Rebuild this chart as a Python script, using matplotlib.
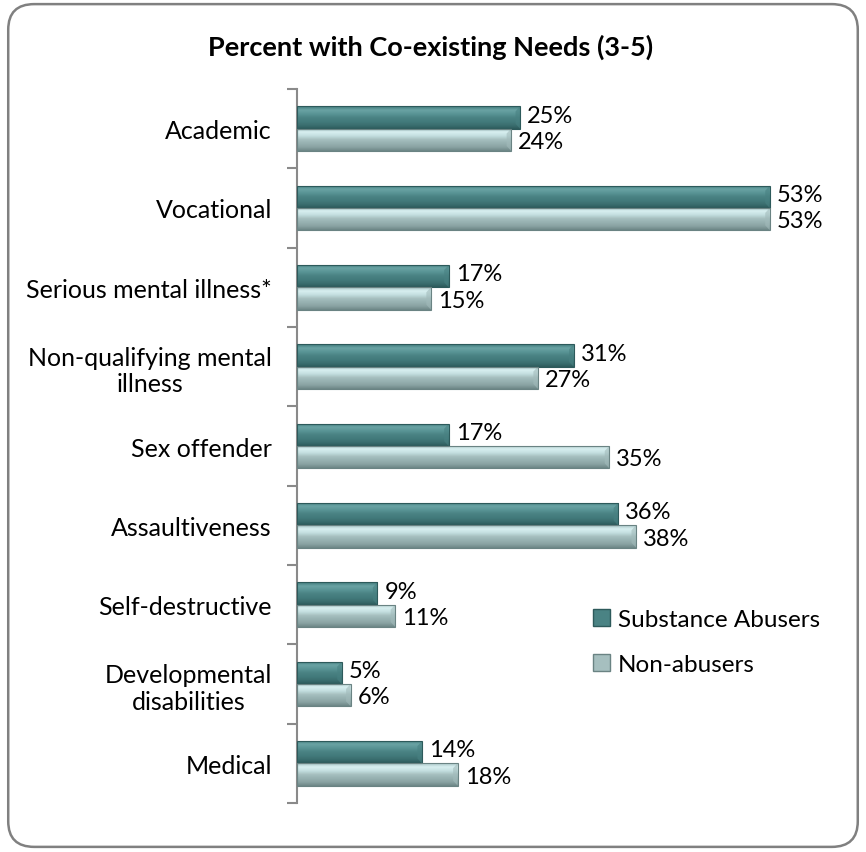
import numpy as np
import matplotlib
matplotlib.use("Agg")
import matplotlib.pyplot as plt
from matplotlib.colors import LinearSegmentedColormap
from matplotlib.patches import FancyBboxPatch, Patch

plt.rcParams['font.family'] = ['Lato', 'DejaVu Sans']

categories = ["Academic", "Vocational", "Serious mental illness*",
              "Non-qualifying mental\nillness", "Sex offender", "Assaultiveness",
              "Self-destructive", "Developmental\ndisabilities", "Medical"]
abusers = [25, 53, 17, 31, 17, 36, 9, 5, 14]
non_abusers = [24, 53, 15, 27, 35, 38, 11, 6, 18]
series_names = ["Substance Abusers", "Non-abusers"]

# bevel gradients, top to bottom of each bar
dark_cmap = LinearSegmentedColormap.from_list(
    "dark", ["#3f7a7b", "#6aa3a4", "#5a9596", "#4a8384", "#437b7c", "#3b6f70", "#2c5b5c"])
light_cmap = LinearSegmentedColormap.from_list(
    "light", ["#a9c6c7", "#d8eff0", "#c4dfe0", "#a6bfbf", "#97b1b1", "#8aa3a3", "#6d8787"])

fig = plt.figure(figsize=(8.66, 8.53), dpi=100)
ax = fig.add_axes([0.343, 0.0574, 0.621, 0.8371])

grad = np.linspace(0, 1, 64).reshape(-1, 1)
h = 0.28
y = np.arange(len(categories))


def bevel_bar(x, yc, cmap, edge):
    y0, y1 = yc - h / 2, yc + h / 2
    rect = plt.Rectangle((0, y0), x, h, facecolor="none", edgecolor=edge, lw=0.8, zorder=3)
    ax.add_patch(rect)
    # y axis is inverted, so row 0 of the gradient goes at the top edge (y0)
    im = ax.imshow(grad, extent=(0, x, y1, y0), origin="upper", cmap=cmap,
                   aspect="auto", zorder=2, interpolation="bilinear")
    im.set_clip_path(rect)
    # small bevel on the right end
    d = min(0.5, x * 0.15)
    ax.fill([x - d, x, x, x - d], [y0 + h * 0.22, y0, y1, y1 - h * 0.22],
            color=cmap(0.55), alpha=0.6, lw=0, zorder=2.5)


for i in range(len(categories)):
    bevel_bar(abusers[i], y[i] - h / 2, dark_cmap, "#2d5a5b")
    bevel_bar(non_abusers[i], y[i] + h / 2, light_cmap, "#6a8383")
    ax.text(abusers[i] + 0.8, y[i] - h / 2 - 0.03, f"{abusers[i]}%",
            va="center", ha="left", fontsize=17)
    ax.text(non_abusers[i] + 0.8, y[i] + h / 2 + 0.02, f"{non_abusers[i]}%",
            va="center", ha="left", fontsize=17)

ax.set_xlim(0, 60.3)
ax.set_ylim(len(categories) - 0.5, -0.5)

for s in ["top", "right", "bottom"]:
    ax.spines[s].set_visible(False)
ax.spines["left"].set_color("#8a8a8a")
ax.spines["left"].set_linewidth(1.5)

ax.set_xticks([])
ax.set_yticks(y)
ax.set_yticklabels(categories, fontsize=18, ha="right", multialignment="center")
ax.tick_params(axis="y", which="major", length=0, pad=18)
ax.set_yticks(np.arange(-0.5, len(categories)), minor=True)
ax.tick_params(axis="y", which="minor", length=7, width=1.5, color="#8a8a8a")

fig.text(0.497, 0.944, "Percent with Co-existing Needs (3-5)", ha="center", va="center",
         fontsize=19.5, fontweight="bold")

handles = [Patch(facecolor="#4a8384", edgecolor="#2d5a5b"),
           Patch(facecolor="#a6bfbf", edgecolor="#6a8383")]
fig.legend(handles, series_names, loc="center left", frameon=False,
           bbox_to_anchor=(0.66, 0.246), fontsize=17.5, handlelength=0.7,
           handleheight=0.7, handletextpad=0.3, labelspacing=1.0)

border = FancyBboxPatch((0.0095, 0.006), 0.981, 0.988, transform=fig.transFigure,
                        boxstyle="round,pad=0,rounding_size=0.03",
                        facecolor="none", edgecolor="#808080", lw=1.8)
fig.patches.append(border)

fig.savefig("out.png", dpi=100)
